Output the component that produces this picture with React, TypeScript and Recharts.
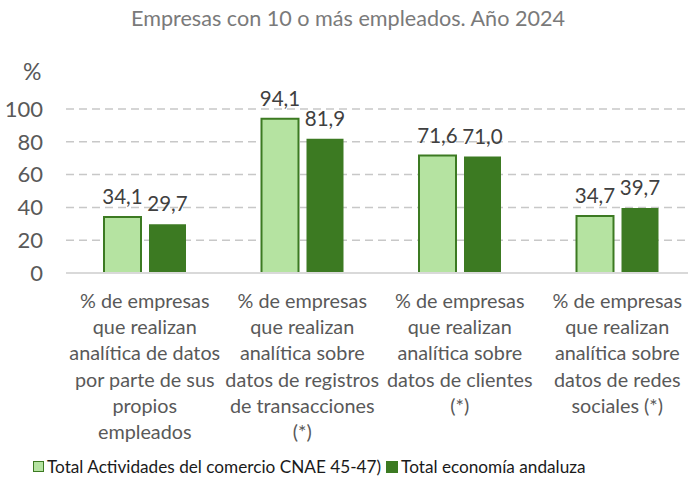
import { BarChart, Bar, XAxis, YAxis, CartesianGrid, LabelList } from "recharts";

const categories = [
  "% de empresas|que realizan|analítica de datos|por parte de sus|propios|empleados",
  "% de empresas|que realizan|analítica sobre|datos de registros|de transacciones|(*)",
  "% de empresas|que realizan|analítica sobre|datos de clientes|(*)",
  "% de empresas|que realizan|analítica sobre|datos de redes|sociales (*)",
];
const comercio = [34.1, 94.1, 71.6, 34.7];
const andalucia = [29.7, 81.9, 71.0, 39.7];
const yTicks = [0, 20, 40, 60, 80, 100];

const data = categories.map((name, i) => ({
  name,
  comercio: comercio[i],
  andalucia: andalucia[i],
}));

const FONT = "Lato, 'Open Sans', sans-serif";
const LIGHT = "#b5e3a1";
const DARK = "#3c7a22";

const fmt = (v: any) => Number(v).toFixed(1).replace(".", ",");

const CategoryTick = ({ x, y, payload }: any) => {
  const lines = String(payload.value).split("|");
  return (
    <text x={x} y={y} textAnchor="middle" fill="#595959" fontSize={19.8} fontFamily={FONT}>
      {lines.map((l, i) => (
        <tspan key={i} x={x} dy={i === 0 ? 35 : 26.2}>
          {l}
        </tspan>
      ))}
    </text>
  );
};

const App = () => {
  return (
    <div
      style={{
        position: "absolute",
        left: 0,
        top: 0,
        width: 688,
        height: 482,
        overflow: "hidden",
        background: "#fff",
        fontFamily: FONT,
      }}
    >
      <div
        style={{
          position: "absolute",
          top: 5,
          left: 0,
          width: 696,
          textAlign: "center",
          fontSize: 21.6,
          color: "#7a7a7a",
        }}
      >
        Empresas con 10 o más empleados. Año 2024
      </div>
      <div style={{ position: "absolute", top: 57, left: 23, fontSize: 23, color: "#595959" }}>%</div>
      <BarChart
        width={696}
        height={482}
        data={data}
        margin={{ top: 109, right: 0, left: 0, bottom: 0 }}
        barGap={8}
        barCategoryGap="24%"
      >
        <CartesianGrid vertical={false} stroke="#c8c8c8" strokeWidth={1.5} strokeDasharray="8 5" />
        <XAxis
          dataKey="name"
          height={209}
          interval={0}
          tickLine={false}
          tickSize={0}
          tickMargin={0}
          axisLine={{ stroke: "#d9d9d9", strokeWidth: 2 }}
          tick={<CategoryTick />}
        />
        <YAxis
          width={66}
          domain={[0, 100]}
          ticks={yTicks}
          axisLine={false}
          tickLine={false}
          tickSize={0}
          tickMargin={23}
          tick={{ fill: "#595959", fontSize: 22, fontFamily: FONT }}
        />
        <Bar
          dataKey="comercio"
          fill={LIGHT}
          stroke={DARK}
          strokeWidth={2}
          barSize={37}
          isAnimationActive={false}
        >
          <LabelList
            dataKey="comercio"
            position="top"
            offset={13}
            formatter={fmt}
            style={{ fill: "#404040", fontSize: 20.5, fontFamily: FONT }}
          />
        </Bar>
        <Bar dataKey="andalucia" fill={DARK} barSize={37} isAnimationActive={false}>
          <LabelList
            dataKey="andalucia"
            position="top"
            offset={13}
            formatter={fmt}
            style={{ fill: "#404040", fontSize: 20.5, fontFamily: FONT }}
          />
        </Bar>
      </BarChart>
      <div
        style={{
          position: "absolute",
          top: 456,
          left: 33,
          display: "flex",
          alignItems: "center",
          fontSize: 17.2,
          color: "#1a1a1a",
          whiteSpace: "nowrap",
        }}
      >
        <span
          style={{
            display: "inline-block",
            width: 9,
            height: 9,
            background: LIGHT,
            border: `1.5px solid ${DARK}`,
            marginRight: 3,
          }}
        />
        <span style={{ marginRight: 5 }}>Total Actividades del comercio CNAE 45-47)</span>
        <span
          style={{ display: "inline-block", width: 12, height: 12, background: DARK, marginRight: 3 }}
        />
        <span>Total economía andaluza</span>
      </div>
    </div>
  );
};

export default App;
